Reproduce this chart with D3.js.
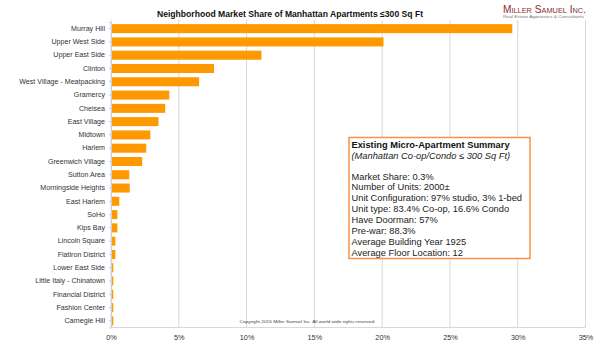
<!DOCTYPE html>
<html><head><meta charset="utf-8">
<script src="https://cdn.jsdelivr.net/npm/d3@7"></script>
<style>body{margin:0;background:#fff}svg{display:block}text{font-family:"Liberation Sans",Arial,Helvetica,sans-serif}</style>
</head><body>
<script>
const categories = ["Murray Hill","Upper West Side","Upper East Side","Clinton","West Village - Meatpacking","Gramercy","Chelsea","East Village","Midtown","Harlem","Greenwich Village","Sutton Area","Morningside Heights","East Harlem","SoHo","Kips Bay","Lincoln Square","Flatiron District","Lower East Side","Little Italy - Chinatown","Financial District","Fashion Center","Carnegie Hill"];
const shares = [29.6,20.1,11.1,7.6,6.5,4.3,4.0,3.5,2.9,2.6,2.3,1.35,1.38,0.61,0.47,0.47,0.32,0.32,0.17,0.17,0.17,0.17,0.17];
const xTicks = [0,5,10,15,20,25,30,35];
const chartTitle = "Neighborhood Market Share of Manhattan Apartments \u2264300 Sq Ft";
const boxTitle = "Existing Micro-Apartment Summary";
const boxSubtitle = "(Manhattan Co-op/Condo \u2264 300 Sq Ft)";
const boxLines = ["Market Share: 0.3%","Number of Units: 2000\u00b1","Unit Configuration: 97% studio, 3% 1-bed","Unit type: 83.4% Co-op, 16.6% Condo","Have Doorman: 57%","Pre-war: 88.3%","Average Building Year 1925","Average Floor Location: 12"];

const W=600,H=349;
const svg=d3.select("body").append("svg").attr("width",W).attr("height",H);
const x=d3.scaleLinear().domain([0,35]).range([111,585.5]);
const y=d3.scaleBand().domain(categories).range([22,327.5]).paddingInner(0.32).paddingOuter(0.16);

// grid
svg.append("g").selectAll("line").data(xTicks).join("line")
  .attr("x1",d=>x(d)).attr("x2",d=>x(d)).attr("y1",20).attr("y2",327.5)
  .attr("stroke","#d9d9d9").attr("stroke-width",1);
// bottom axis line
svg.append("line").attr("x1",x(0)).attr("x2",x(35)).attr("y1",327.5).attr("y2",327.5).attr("stroke","#d9d9d9");

// bars
svg.append("g").selectAll("rect").data(categories).join("rect")
  .attr("x",x(0)).attr("y",d=>y(d)).attr("height",y.bandwidth())
  .attr("width",(d,i)=>x(shares[i])-x(0)).attr("fill","#ff9900");

// left axis
const ya=d3.axisLeft(y).tickSize(2).tickPadding(4);
const gy=svg.append("g").attr("transform",`translate(${x(0)},0)`).call(ya);
gy.select(".domain").attr("stroke","#c8d0dc");
gy.selectAll(".tick line").attr("stroke","#c8d0dc");
gy.selectAll("text").attr("font-size",7.1).attr("fill","#333").attr("font-family","Liberation Sans, Arial, sans-serif");

// x axis labels
const xa=d3.axisBottom(x).tickValues(xTicks).tickFormat(d=>d+"%").tickSize(0).tickPadding(7);
const gx=svg.append("g").attr("transform","translate(0,327.5)").call(xa);
gx.select(".domain").remove();
gx.selectAll("text").attr("font-size",7.3).attr("fill","#333").attr("font-family","Liberation Sans, Arial, sans-serif");

// title
svg.append("text").attr("x",290).attr("y",17).attr("text-anchor","middle")
  .attr("font-size",8.6).attr("font-weight","bold").attr("fill","#111").text(chartTitle);

// logo
svg.append("text").attr("x",503).attr("y",12.5).attr("font-family","Liberation Serif, Times New Roman, serif")
  .attr("font-size",11).style("font-variant","small-caps").attr("fill","#8e2a2a")
  .attr("textLength",83).attr("lengthAdjust","spacingAndGlyphs").text("Miller Samuel Inc.");
svg.append("text").attr("x",503).attr("y",18).attr("font-family","Liberation Serif, Times New Roman, serif")
  .attr("font-size",4.3).attr("fill","#777")
  .attr("textLength",81).attr("lengthAdjust","spacingAndGlyphs").text("Real Estate Appraisers & Consultants");

// copyright
svg.append("text").attr("x",239.5).attr("y",322.5).attr("font-size",4.4).attr("fill","#444")
  .attr("textLength",136).attr("lengthAdjust","spacingAndGlyphs")
  .text("Copyright 2015 Miller Samuel Inc.  All world wide rights reserved.");

// summary box
svg.append("rect").attr("x",349).attr("y",137.5).attr("width",181).attr("height",121)
  .attr("fill","#fff").attr("stroke","#f5934a").attr("stroke-width",1.5);
const bx=351.5;
svg.append("text").attr("x",bx).attr("y",148).attr("font-size",9.3).attr("font-weight","bold").attr("fill","#111").text(boxTitle);
svg.append("text").attr("x",bx).attr("y",158.5).attr("font-size",9.3).attr("font-style","italic").attr("fill","#222").text(boxSubtitle);
svg.append("g").selectAll("text").data(boxLines).join("text")
  .attr("x",bx).attr("y",(d,i)=>179.5+i*10.95).attr("font-size",9.3).attr("fill","#222").text(d=>d);
</script>
</body></html>
